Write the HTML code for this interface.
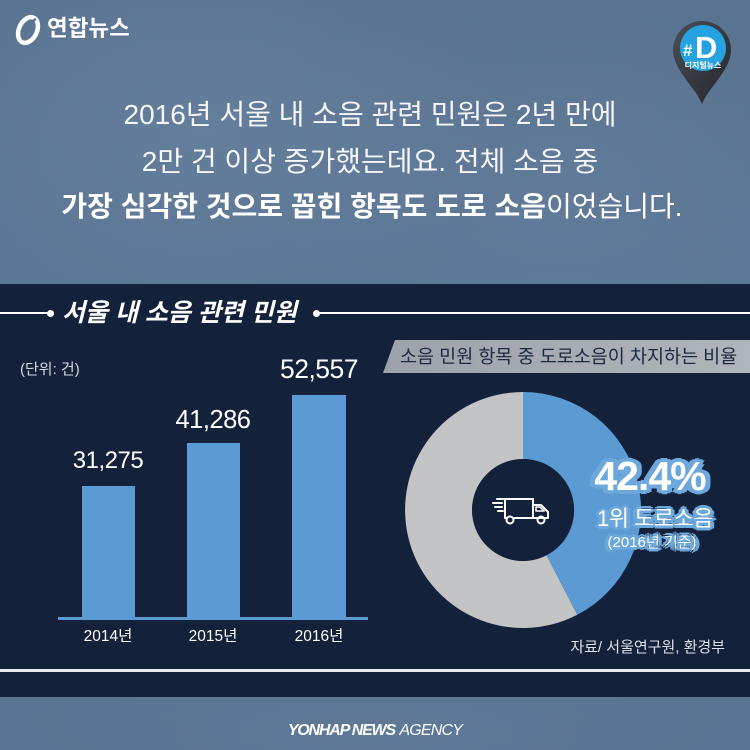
<!DOCTYPE html>
<html><head><meta charset="utf-8"><style>
*{margin:0;padding:0;box-sizing:border-box}
body{width:750px;height:750px;overflow:hidden;position:relative;font-family:"Liberation Sans","Noto Sans CJK KR",sans-serif;background:#5a7595}
.bg{position:absolute;left:0;top:0;width:750px;height:750px;background:
radial-gradient(ellipse 300px 200px at 200px 120px,rgba(120,145,175,0.35),transparent),
radial-gradient(ellipse 300px 200px at 560px 180px,rgba(110,135,165,0.3),transparent),
radial-gradient(ellipse 400px 100px at 375px 735px,rgba(110,135,165,0.3),transparent),
linear-gradient(#58728f,#5d7897 50%,#587391)}
.t{position:absolute;white-space:nowrap;color:#fff}
.panel{position:absolute;left:0;top:284px;width:750px;height:413px;background:#14213a}
.g1{text-shadow:4px 0 #6da8dc,-4px 0 #6da8dc,0 4px #6da8dc,0 -4px #6da8dc,3px 3px #6da8dc,-3px 3px #6da8dc,3px -3px #6da8dc,-3px -3px #6da8dc,5px 2px #6da8dc,-5px 2px #6da8dc,5px -2px #6da8dc,-5px -2px #6da8dc}
.g2{text-shadow:3px 0 #6da8dc,-3px 0 #6da8dc,0 3px #6da8dc,0 -3px #6da8dc,2px 2px #6da8dc,-2px 2px #6da8dc,2px -2px #6da8dc,-2px -2px #6da8dc,4px 1px #6da8dc,-4px 1px #6da8dc}
</style></head><body>
<div class="bg"></div>

<!-- logo -->
<svg style="position:absolute;left:13px;top:13px" width="32" height="34" viewBox="0 0 32 34">
<ellipse cx="15" cy="17" rx="9" ry="13.5" transform="rotate(25 15 17)" fill="none" stroke="#fff" stroke-width="4.5"/>
<path d="M10 27 Q17 8 23 6" stroke="#5a7595" stroke-width="2.5" fill="none"/>
</svg>
<div class="t" style="left:47px;top:16px;height:26px;line-height:26px;font-size:22.5px;font-weight:bold">연합뉴스</div>

<!-- pin -->
<svg style="position:absolute;left:668px;top:18px" width="70" height="92" viewBox="0 0 70 92">
<defs><linearGradient id="pg" x1="0" y1="0" x2="1" y2="1"><stop offset="0" stop-color="#4a4f57"/><stop offset="1" stop-color="#23262b"/></linearGradient></defs>
<path d="M34 86 C28 70 5 52 5 32 A29 29 0 0 1 63 32 C63 52 40 70 34 86 Z" fill="url(#pg)"/>
<circle cx="35" cy="30" r="23" fill="#27a2e0"/>
<text x="15" y="38" font-family="Liberation Sans" font-weight="bold" font-size="17" fill="#fff">#</text>
<text x="27" y="40" font-family="Liberation Sans" font-weight="bold" font-size="31" fill="#fff">D</text>
<text x="35" y="50" text-anchor="middle" font-family="Liberation Sans,Noto Sans CJK KR,sans-serif" font-weight="bold" font-size="8" fill="#fff">디지털뉴스</text>
</svg>

<!-- headline -->
<div class="t" style="left:0;width:740px;text-align:center;top:100px;height:30px;line-height:30px;font-size:28px;color:#f4f6f8">2016년 서울 내 소음 관련 민원은 2년 만에</div>
<div class="t" style="left:0;width:740px;text-align:center;top:147px;height:30px;line-height:30px;font-size:28px;color:#f4f6f8">2만 건 이상 증가했는데요. 전체 소음 중</div>
<div class="t" style="left:0;width:744px;text-align:center;top:192px;height:30px;line-height:30px;font-size:28px;color:#fff"><b>가장 심각한 것으로 꼽힌 항목도 도로 소음</b>이었습니다.</div>

<div class="panel"></div>

<!-- title line -->
<div style="position:absolute;left:0;top:312px;width:50px;height:2px;background:#fff"></div>
<div style="position:absolute;left:47px;top:310px;width:7px;height:7px;border-radius:50%;background:#fff"></div>
<div style="position:absolute;left:313px;top:310px;width:7px;height:7px;border-radius:50%;background:#fff"></div>
<div style="position:absolute;left:318px;top:312px;width:432px;height:2px;background:#fff"></div>
<div class="t" style="left:62px;top:299px;height:28px;line-height:28px;font-size:25px;font-weight:bold;font-style:italic">서울 내 소음 관련 민원</div>

<!-- bar chart -->
<div class="t" style="left:20px;top:361px;height:18px;line-height:18px;font-size:15px;color:#d4dae3">(단위: 건)</div>
<div style="position:absolute;left:82px;top:486px;width:53px;height:132px;background:#5b9ad3"></div>
<div style="position:absolute;left:187px;top:443px;width:53px;height:175px;background:#5b9ad3"></div>
<div style="position:absolute;left:292px;top:395px;width:54px;height:223px;background:#5b9ad3"></div>
<div style="position:absolute;left:58px;top:617px;width:310px;height:3px;background:#5b9ad3"></div>
<div class="t" style="left:48px;width:120px;text-align:center;top:447px;height:28px;line-height:28px;font-size:24px;letter-spacing:-0.5px">31,275</div>
<div class="t" style="left:153px;width:120px;text-align:center;top:405px;height:30px;line-height:30px;font-size:25.5px;letter-spacing:-0.5px">41,286</div>
<div class="t" style="left:259px;width:120px;text-align:center;top:354px;height:30px;line-height:30px;font-size:26.5px;letter-spacing:-0.5px">52,557</div>
<div class="t" style="left:48px;width:120px;text-align:center;top:628px;height:18px;line-height:18px;font-size:15.5px">2014년</div>
<div class="t" style="left:153px;width:120px;text-align:center;top:628px;height:18px;line-height:18px;font-size:15.5px">2015년</div>
<div class="t" style="left:259px;width:120px;text-align:center;top:628px;height:18px;line-height:18px;font-size:15.5px">2016년</div>

<!-- banner -->
<svg style="position:absolute;left:0;top:0" width="750" height="750">
<defs><linearGradient id="bg2" x1="0" y1="0" x2="1" y2="0"><stop offset="0" stop-color="#9ea3ab"/><stop offset="1" stop-color="#b0b4bb"/></linearGradient></defs>
<polygon points="395,340 750,340 750,373 383,373" fill="url(#bg2)"/>
<!-- donut -->
<path d="M523 392 A118 118 0 1 0 577.3 614.8 L546.5 555.3 A51 51 0 1 1 523 459 Z" fill="#c3c4c6"/>
<path d="M523 392 A118 118 0 0 1 577.3 614.8 L546.5 555.3 A51 51 0 0 0 523 459 Z" fill="#5b9ad3"/>
<circle cx="523" cy="510" r="51" fill="#14213a"/>
<!-- truck -->
<g fill="none" stroke="#fff" stroke-width="2" stroke-linejoin="round" stroke-linecap="round">
<path d="M497 499 H533 V518 H545 M505 499 V518 H507"/>
<path d="M533 505 H541 L548 512 V518 H545"/>
<path d="M536 507 H540 L544 511 H536 Z" stroke-width="1.6"/>
<path d="M514 518 H537"/>
<circle cx="510" cy="520" r="3.5"/>
<circle cx="541" cy="520" r="3.5"/>
<path d="M493 503 H502 M495 507 H502 M498 511 H503"/>
</g>
</svg>
<div class="t" style="left:400px;top:346px;height:22px;line-height:22px;font-size:18.5px;color:#1c2940">소음 민원 항목 중 도로소음이 차지하는 비율</div>

<!-- label -->
<div class="t g1" style="left:550px;width:200px;text-align:center;top:454px;height:44px;line-height:44px;font-size:41px;font-weight:bold;letter-spacing:-1px">42.4%</div>
<div class="t g2" style="left:555px;width:200px;text-align:center;top:506px;height:26px;line-height:26px;font-size:22px;letter-spacing:-0.5px">1위 도로소음</div>
<div class="t g2" style="left:552px;width:200px;text-align:center;top:534px;height:18px;line-height:18px;font-size:15px">(2016년 기준)</div>

<div class="t" style="left:525px;width:200px;text-align:right;top:639px;height:18px;line-height:18px;font-size:15px;color:#dde2ea">자료/ 서울연구원, 환경부</div>

<!-- bottom line -->
<div style="position:absolute;left:0;top:669px;width:750px;height:3px;background:#e8ebef"></div>

<!-- footer -->
<div class="t" style="left:0;width:750px;text-align:center;top:721px;height:20px;line-height:20px;font-size:16px;font-style:italic;color:#fff"><b style="letter-spacing:-1.2px">YONHAP NEWS</b> <span style="letter-spacing:-0.8px;font-weight:normal">AGENCY</span></div>
</body></html>
